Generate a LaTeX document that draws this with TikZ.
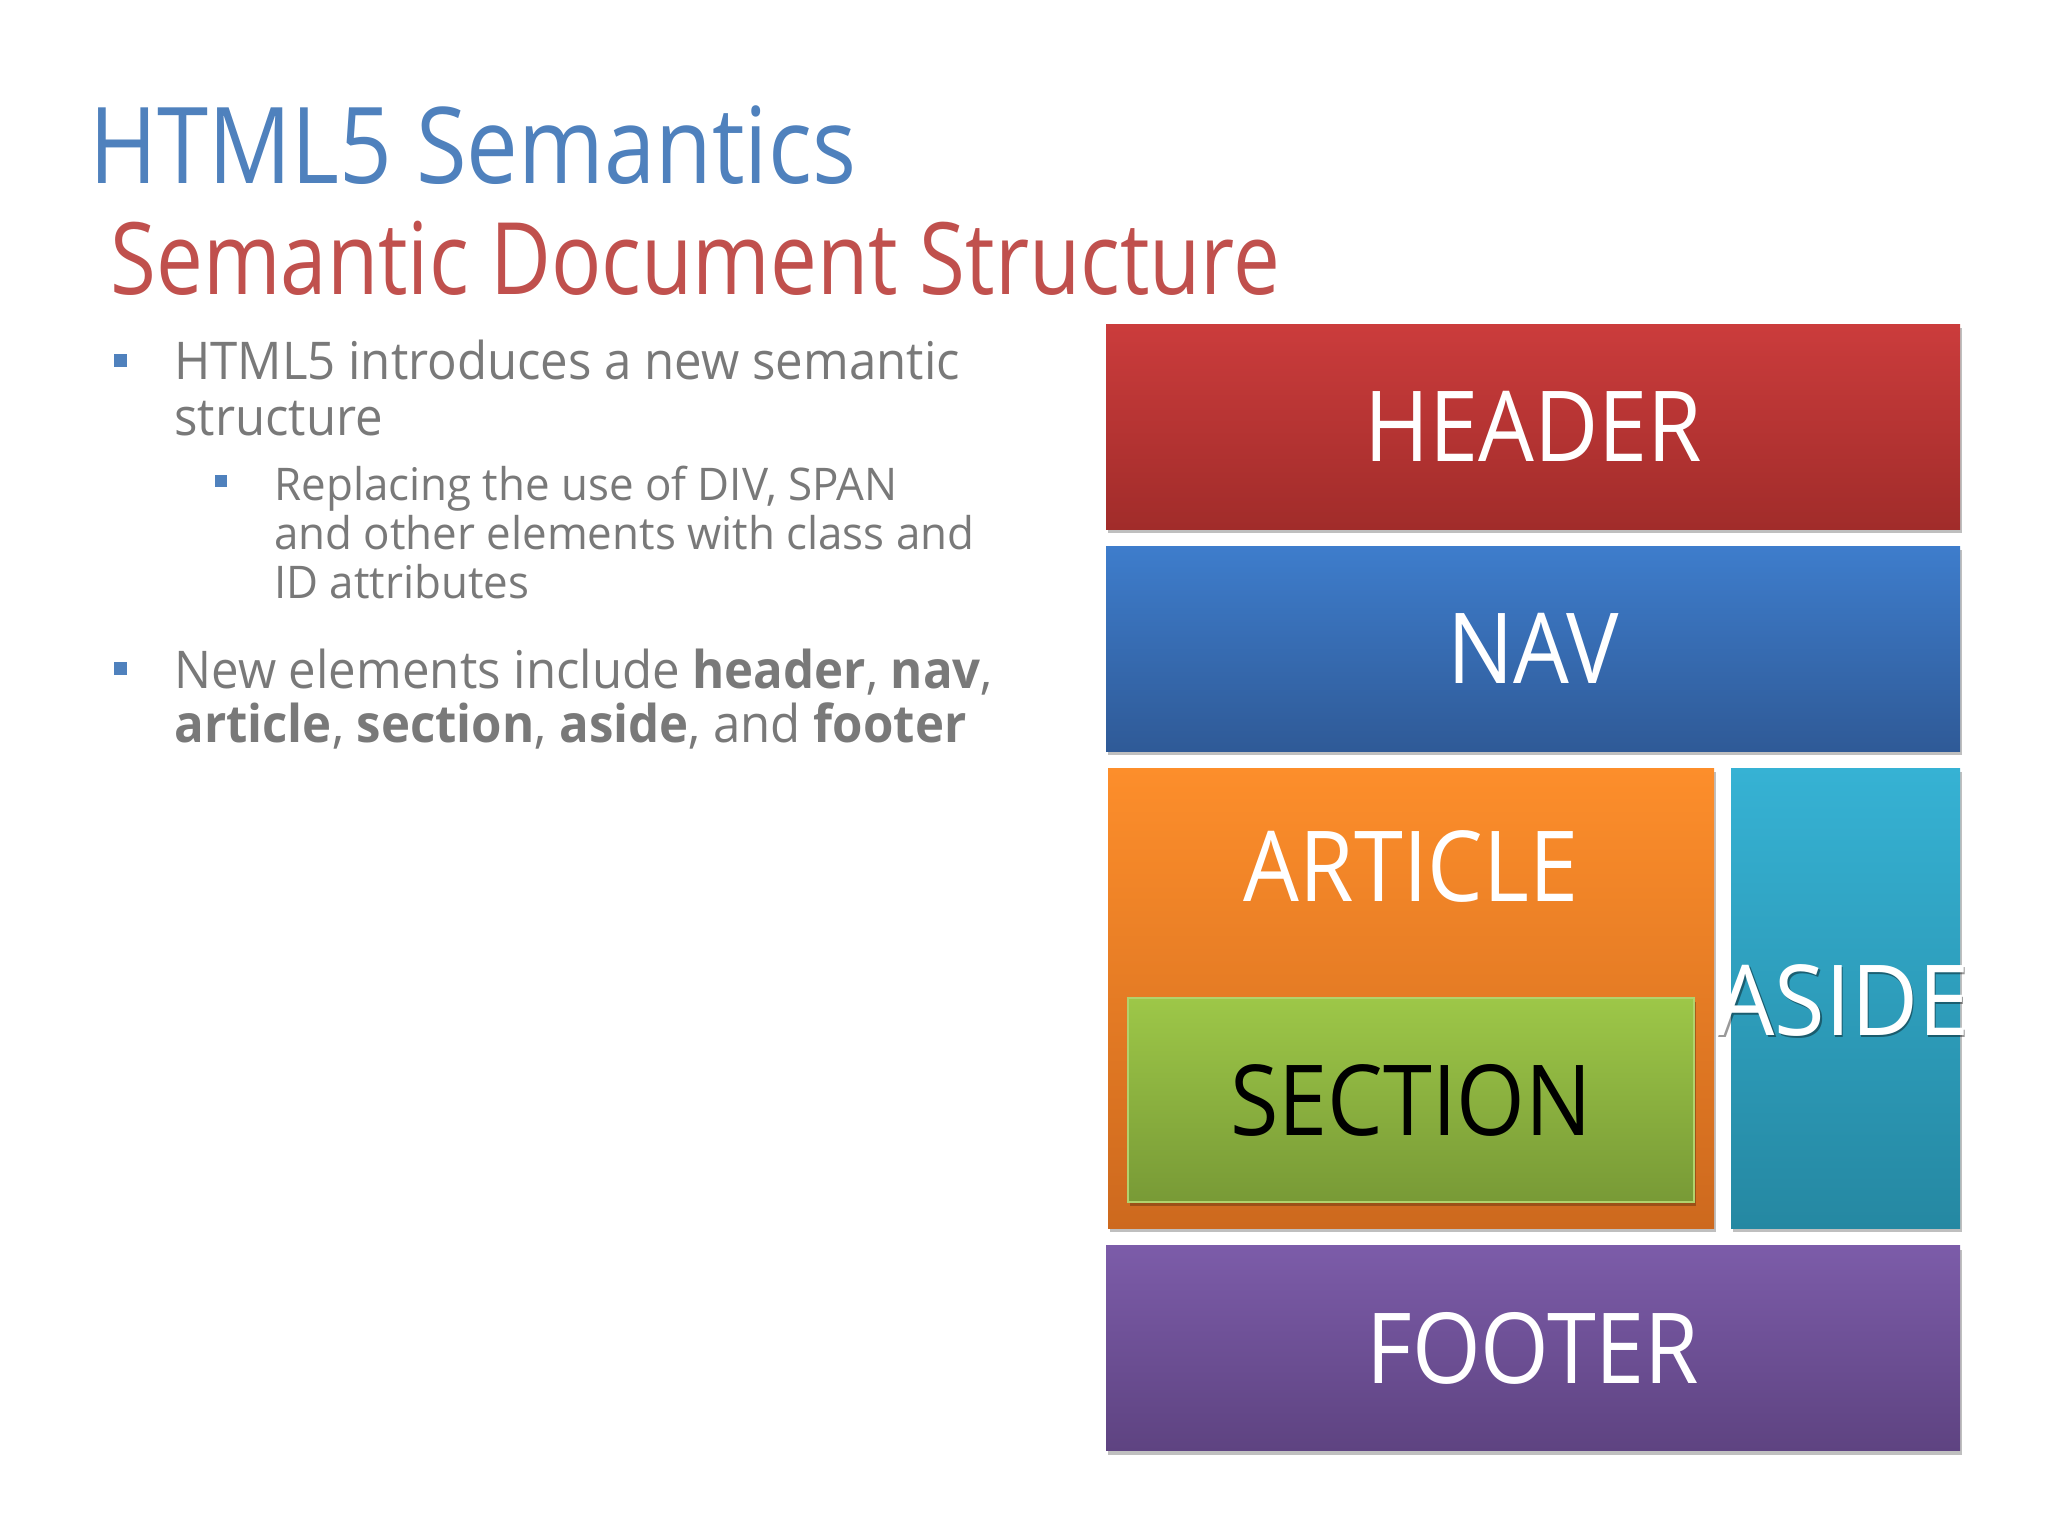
\documentclass[tikz,border=0pt]{standalone}
\usepackage{fontspec}
\setmainfont{Open Sans}
\newfontfamily\ftitle[FakeStretch=0.87]{Open Sans}
\newfontfamily\fsub[FakeStretch=0.835]{Open Sans}
\newfontfamily\fbodyA[FakeStretch=0.945]{Open Sans}
\newfontfamily\fbodyB[FakeStretch=0.975]{Open Sans}
\newfontfamily\flbl[FakeStretch=0.90]{Open Sans}
\newfontfamily\faside[FakeStretch=0.94]{Open Sans}
\usetikzlibrary{shadows}
\definecolor{titleblue}{HTML}{4F81BD}
\definecolor{subred}{HTML}{C0504D}
\definecolor{bodygray}{HTML}{797979}
\definecolor{bulletblue}{HTML}{4F81BD}
\definecolor{hdrT}{HTML}{CB3C3C}\definecolor{hdrB}{HTML}{A12C2A}
\definecolor{navT}{HTML}{3E7DCC}\definecolor{navB}{HTML}{2F5A97}
\definecolor{artT}{HTML}{FD8E2B}\definecolor{artB}{HTML}{CD691E}
\definecolor{asdT}{HTML}{36B2D4}\definecolor{asdB}{HTML}{2588A2}
\definecolor{secT}{HTML}{9DC748}\definecolor{secB}{HTML}{789A36}
\definecolor{ftrT}{HTML}{7C5CA9}\definecolor{ftrB}{HTML}{5E4381}
\tikzset{
  blk/.style={draw=none, inner sep=0pt, text=white,
    font=\flbl\fontsize{49}{55}\selectfont,
    drop shadow={shadow xshift=1pt, shadow yshift=-2pt, opacity=0.25, fill=black}},
  lbl/.style={inner sep=0pt, font=\flbl\fontsize{49}{55}\selectfont},
  bodyA/.style={anchor=base west, inner sep=0pt, text=bodygray, font=\fbodyA\fontsize{26}{30}\selectfont},
  bodyB/.style={anchor=base west, inner sep=0pt, text=bodygray, font=\fbodyB\fontsize{22.5}{26}\selectfont},
  sqA/.style={fill=bulletblue, inner sep=0pt, minimum size=6.5pt},
  sqB/.style={fill=bulletblue, inner sep=0pt, minimum size=6pt}
}
\begin{document}
\begin{tikzpicture}[x=0.5pt,y=-0.5pt]
\fill[white] (0,0) rectangle (2048,1536);
\useasboundingbox (0,0) rectangle (2048,1536);
% titles
\node[anchor=base west, inner sep=0pt, text=titleblue, font=\ftitle\fontsize{53}{60}\selectfont] (title) at (89,183) {HTML5 Semantics};
\node[anchor=base west, inner sep=0pt, text=subred, font=\fsub\fontsize{50}{58}\selectfont] (subtitle) at (110,294) {Semantic Document Structure};
% bullets
\node[sqA] (b1) at (120.5,360) {};
\node[bodyA] (l1) at (174,379) {HTML5 introduces a new semantic};
\node[bodyA] (l2) at (174,435) {structure};
\node[sqB] (b2) at (221,481) {};
\node[bodyB] (l3) at (274,500) {Replacing the use of DIV, SPAN};
\node[bodyB] (l4) at (274,549) {and other elements with class and};
\node[bodyB] (l5) at (274,598) {ID attributes};
\node[sqA] (b3) at (120.5,668) {};
\node[bodyA] (l6) at (174,688) {New elements include \textbf{header}, \textbf{nav},};
\node[bodyA] (l7) at (174,742) {\textbf{article}, \textbf{section}, \textbf{aside}, and \textbf{footer}};
% boxes
\node[blk, top color=hdrT, bottom color=hdrB, minimum width=427pt, minimum height=102.5pt] (header) at (1533,426.5) {HEADER};
\node[blk, top color=navT, bottom color=navB, minimum width=427pt, minimum height=102.5pt] (nav) at (1533,648.5) {NAV};
\node[blk, top color=artT, bottom color=artB, minimum width=303pt, minimum height=230pt] (article) at (1411,998) {};
\node[blk, top color=asdT, bottom color=asdB, minimum width=114.5pt, minimum height=230pt] (aside) at (1845.5,998) {};
\node[blk, top color=secT, bottom color=secB, draw=secT!80!white, line width=0.6pt, minimum width=283pt, minimum height=102pt, text=black] (section) at (1411,1100) {SECTION};
\node[blk, top color=ftrT, bottom color=ftrB, minimum width=427pt, minimum height=102.5pt] (footer) at (1533,1348) {FOOTER};
\node[lbl, text=white] (artlbl) at (1411,866) {ARTICLE};
\node[lbl, text=black, text opacity=0.4, font=\faside\fontsize{49}{55}\selectfont] (asideshadow) at (1844.5,1002.5) {ASIDE};
\node[lbl, text=white, font=\faside\fontsize{49}{55}\selectfont] (asidelbl) at (1843,1000) {ASIDE};
\end{tikzpicture}
\end{document}
